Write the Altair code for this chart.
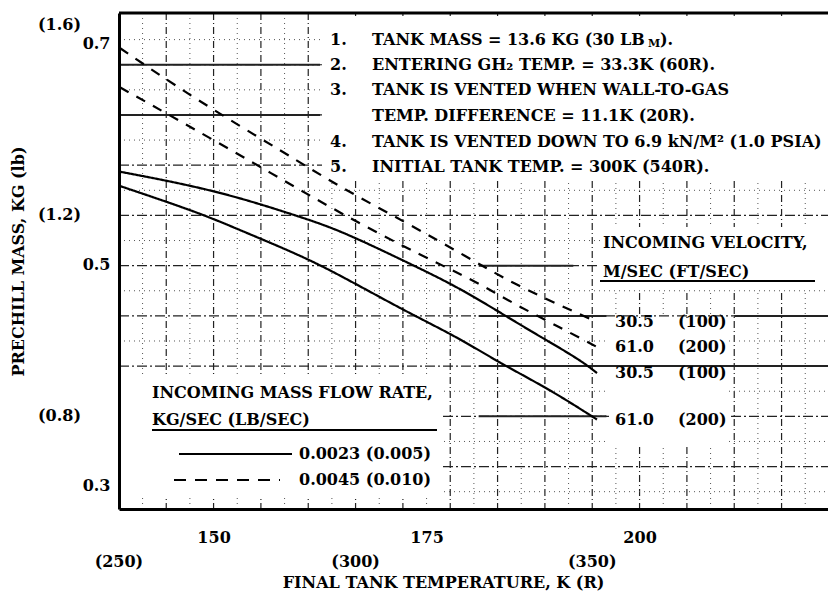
import altair as alt
import pandas as pd

# ---------------- data ----------------
K_SOLID_30 = [139.0, 150.4, 160.1, 164.8, 172.7, 178.6, 184.4, 188.3, 193.0, 195.0]
KG_SOLID_30 = [0.5838, 0.567, 0.5432, 0.531, 0.502, 0.480, 0.453, 0.435, 0.414, 0.402]
K_SOLID_61 = [139.0, 148.4, 153.1, 160.1, 164.8, 172.7, 178.6, 183.6, 189.5, 195.0]
KG_SOLID_61 = [0.5709, 0.5465, 0.531, 0.5086, 0.4905, 0.457, 0.4345, 0.411, 0.387, 0.360]
K_DASH_30 = [139.0, 147.7, 158.3, 164.8, 172.7, 179.7, 185.1, 191.0, 195.0]
KG_DASH_30 = [0.6955, 0.650, 0.601, 0.570, 0.5375, 0.507, 0.483, 0.462, 0.448]
K_DASH_61 = [139.0, 146.9, 157.1, 164.8, 174.6, 180.5, 185.1, 190.7, 195.0]
KG_DASH_61 = [0.660, 0.626, 0.581, 0.5465, 0.507, 0.486, 0.465, 0.443, 0.4255]

FLOW_SOLID = "0.0023 (0.005)"
FLOW_DASH = "0.0045 (0.010)"
VEL_MS = ["30.5", "61.0"]
VEL_FTS = ["(100)", "(200)"]

K_TICKS = [150, 175, 200]
KG_TICKS = [0.3, 0.5, 0.7]
R_TICKS = [250, 300, 350]
LB_TICKS = [0.8, 1.2, 1.6]

GRID_R_MAJOR = [260, 270, 280, 290, 300, 310, 320, 330, 340, 350, 360, 370, 380, 390]
GRID_R_MINOR = [255, 265, 275, 285, 295, 305, 315, 325, 335, 345, 355, 365, 375, 385, 395]
GRID_LB_MAJOR = [0.7, 0.8, 0.9, 1.0, 1.1, 1.2, 1.3, 1.4, 1.5]
GRID_LB_MINOR = [0.65, 0.75, 0.85, 0.95, 1.05, 1.15, 1.25, 1.35, 1.45, 1.55]
HEAVY_LB = [1.5, 1.4, 1.1, 1.0, 1.0, 0.9, 0.8]
HEAVY_R0 = [250, 250, 326, 326, 380, 326, 326]
HEAVY_R1 = [292.5, 292.5, 346, 353, 400, 400, 353]

NOTE_NUMS = ["1.", "2.", "3.", "", "4.", "5."]
NOTE_TEXTS = [
    "TANK MASS = 13.6 KG (30 LB",
    "ENTERING GH\u2082 TEMP. = 33.3K (60R).",
    "TANK IS VENTED WHEN WALL-TO-GAS",
    "TEMP. DIFFERENCE = 11.1K (20R).",
    "TANK IS VENTED DOWN TO 6.9 kN/M\u00b2 (1.0 PSIA)",
    "INITIAL TANK TEMP. = 300K (540R).",
]

LB_PER_KG = 2.20462
R_PER_K = 1.8

# ---------------- layout ----------------
W, H = 709, 496
KMIN = 138.9
KMAX = KMIN + W / 8.52
KGMIN, KGMAX = 0.2792, 0.7271
FONT = "DejaVu Serif"
FS = 16

xs = alt.Scale(domain=[KMIN, KMAX], nice=False, zero=False)
ys = alt.Scale(domain=[KGMIN, KGMAX], nice=False, zero=False)

rows = []
for k, m, flow, vi in [(K_SOLID_30, KG_SOLID_30, FLOW_SOLID, 0), (K_SOLID_61, KG_SOLID_61, FLOW_SOLID, 1),
                       (K_DASH_30, KG_DASH_30, FLOW_DASH, 0), (K_DASH_61, KG_DASH_61, FLOW_DASH, 1)]:
    for a, b in zip(k, m):
        rows.append({"K": a, "kg": b, "flow": flow, "vel": VEL_MS[vi], "fts": VEL_FTS[vi],
                     "id": flow + VEL_MS[vi]})
curves = pd.DataFrame(rows)
ends = curves.sort_values("K").groupby("id").tail(1)

one = pd.DataFrame({"a": [0]})

def vgrid(vals, dash, color, w=1):
    d = pd.DataFrame({"R": vals})
    return alt.Chart(d).transform_calculate(K=f"datum.R / {R_PER_K}").mark_rule(
        strokeDash=dash, color=color, strokeWidth=w).encode(
        x=alt.X("K:Q", scale=xs), y=alt.value(0), y2=alt.value(H))

def hgrid(vals, dash, color, w=1):
    d = pd.DataFrame({"lb": vals})
    return alt.Chart(d).transform_calculate(kg=f"datum.lb / {LB_PER_KG}").mark_rule(
        strokeDash=dash, color=color, strokeWidth=w).encode(
        y=alt.Y("kg:Q", scale=ys), x=alt.value(0), x2=alt.value(W))

grid = [
    vgrid(GRID_R_MINOR, [1, 4], "#555"),
    vgrid(GRID_R_MAJOR, [7, 3, 1, 3], "#222", 1.2),
    hgrid(GRID_LB_MINOR, [1, 4], "#555"),
    hgrid(GRID_LB_MAJOR, [10, 3, 2, 3], "#222", 1.2),
]

def box(x0, x1, y0, y1):
    return alt.Chart(one).mark_rect(color="white").encode(
        x=alt.value(x0), x2=alt.value(x1), y=alt.value(y0), y2=alt.value(y1))

boxes = [box(203, W, 3, 168), box(481, W, 214, 277), box(490, 610, 305, 433), box(2, 322, 364, 484)]

heavy_df = pd.DataFrame({"lb": HEAVY_LB, "R0": HEAVY_R0, "R1": HEAVY_R1})
heavy = alt.Chart(heavy_df).transform_calculate(
    kg=f"datum.lb / {LB_PER_KG}", K0=f"datum.R0 / {R_PER_K}", K1=f"datum.R1 / {R_PER_K}"
).mark_rule(color="#222", strokeWidth=2).encode(
    y=alt.Y("kg:Q", scale=ys), x=alt.X("K0:Q", scale=xs), x2="K1:Q")

lines = alt.Chart(curves).mark_line(color="black", strokeWidth=2.2, interpolate="basis").encode(
    x=alt.X("K:Q", scale=xs, axis=alt.Axis(
        values=K_TICKS, grid=False, ticks=False, tickSize=0, labelPadding=20,
        labelFont=FONT, labelFontWeight="bold", labelFontSize=FS, labelColor="black",
        domainColor="black", domainWidth=3, zindex=1,
        title="FINAL TANK TEMPERATURE, K (R)", titleFont=FONT, titleFontWeight="bold",
        titleFontSize=FS, titleColor="black", titleX=324, titleY=73, titleBaseline="middle")),
    y=alt.Y("kg:Q", scale=ys, axis=alt.Axis(
        values=KG_TICKS, format=".1f", grid=False, ticks=False, tickSize=0, labelPadding=9,
        labelFont=FONT, labelFontWeight="bold", labelFontSize=FS, labelColor="black",
        domainColor="black", domainWidth=3, zindex=1,
        title="PRECHILL MASS, KG (lb)", titleFont=FONT, titleFontWeight="bold",
        titleFontSize=FS, titleColor="black", titleX=-101, titleY=248, titleAngle=270,
        titleBaseline="middle", titleAlign="center")),
    detail="id:N",
    strokeDash=alt.StrokeDash("flow:N", scale=alt.Scale(domain=[FLOW_SOLID, FLOW_DASH],
                                                        range=[[1, 0], [10, 9]]), legend=None),
)

top_rule = alt.Chart(one).mark_rule(color="black", strokeWidth=3).encode(
    x=alt.value(0), x2=alt.value(W), y=alt.value(0))

def txt(**kw):
    base = dict(font=FONT, fontWeight="bold", fontSize=FS, color="black", baseline="middle", align="left")
    base.update(kw)
    return base

# end labels
lab_ms = alt.Chart(ends).mark_text(**txt()).encode(
    x=alt.value(496), y=alt.Y("kg:Q", scale=ys), text="vel:N")
lab_fts = alt.Chart(ends).mark_text(**txt()).encode(
    x=alt.value(559), y=alt.Y("kg:Q", scale=ys), text="fts:N")

# secondary axis labels
r_df = pd.DataFrame({"R": R_TICKS})
r_labels = alt.Chart(r_df).transform_calculate(
    K=f"datum.R / {R_PER_K}", t="'(' + datum.R + ')'").mark_text(**txt(align="center")).encode(
    x=alt.X("K:Q", scale=xs), y=alt.value(H + 53), text="t:N")
lb_df = pd.DataFrame({"lb": LB_TICKS})
lb_base = alt.Chart(lb_df).transform_calculate(
    kg=f"datum.lb / {LB_PER_KG}", t="'(' + format(datum.lb, '.1f') + ')'")
lb_labels = lb_base.transform_filter("datum.lb < 1.55").mark_text(**txt(align="right")).encode(
    x=alt.value(-38), y=alt.Y("kg:Q", scale=ys), text="t:N")
lb_top = lb_base.transform_filter("datum.lb >= 1.55").mark_text(**txt(align="right", baseline="top", dy=3)).encode(
    x=alt.value(-38), y=alt.Y("kg:Q", scale=ys), text="t:N")

# notes
NOTE_Y = [27, 52, 77, 103, 129, 154]
notes_df = pd.DataFrame({"num": NOTE_NUMS, "t": NOTE_TEXTS, "yy": NOTE_Y})
note_layers = []
for i, r in notes_df.iterrows():
    if r["num"]:
        note_layers.append(alt.Chart(one).mark_text(**txt(text=r["num"])).encode(
            x=alt.value(211), y=alt.value(int(r["yy"]))))
    note_layers.append(alt.Chart(one).mark_text(**txt(text=r["t"])).encode(
        x=alt.value(253), y=alt.value(int(r["yy"]))))
note_layers.append(alt.Chart(one).mark_text(**txt(text="M", fontSize=11)).encode(
    x=alt.value(529), y=alt.value(31)))
note_layers.append(alt.Chart(one).mark_text(**txt(text=").")).encode(
    x=alt.value(541), y=alt.value(27)))

def label(t, x, y, **kw):
    return alt.Chart(one).mark_text(**txt(text=t, **kw)).encode(x=alt.value(x), y=alt.value(y))

def seg(x0, x1, y, dash=None, w=2):
    kw = dict(color="black", strokeWidth=w)
    if dash:
        kw["strokeDash"] = dash
    return alt.Chart(one).mark_rule(**kw).encode(x=alt.value(x0), x2=alt.value(x1), y=alt.value(y))

legend = [
    label("INCOMING VELOCITY,", 484, 230),
    label("M/SEC (FT/SEC)", 484, 259),
    seg(481, 696, 268),
    label("INCOMING MASS FLOW RATE,", 33, 380),
    label("KG/SEC (LB/SEC)", 33, 407),
    seg(33, 318, 417),
    seg(60, 173, 441, w=2.2),
    seg(55, 161, 467, dash=[12, 9], w=2.2),
    label(FLOW_SOLID, 180, 441),
    label(FLOW_DASH, 180, 467),
]

chart = alt.layer(
    *grid, *boxes, heavy, lines, top_rule, lab_ms, lab_fts, r_labels, lb_labels, lb_top,
    *note_layers, *legend
).properties(
    width=W, height=H,
    autosize=alt.AutoSizeParams(type="none"),
    padding={"left": 111, "top": 5, "right": 0, "bottom": 85},
    background="white",
).configure_view(stroke=None)

chart.save("out.html", embed_options={"renderer": "svg", "actions": False})
